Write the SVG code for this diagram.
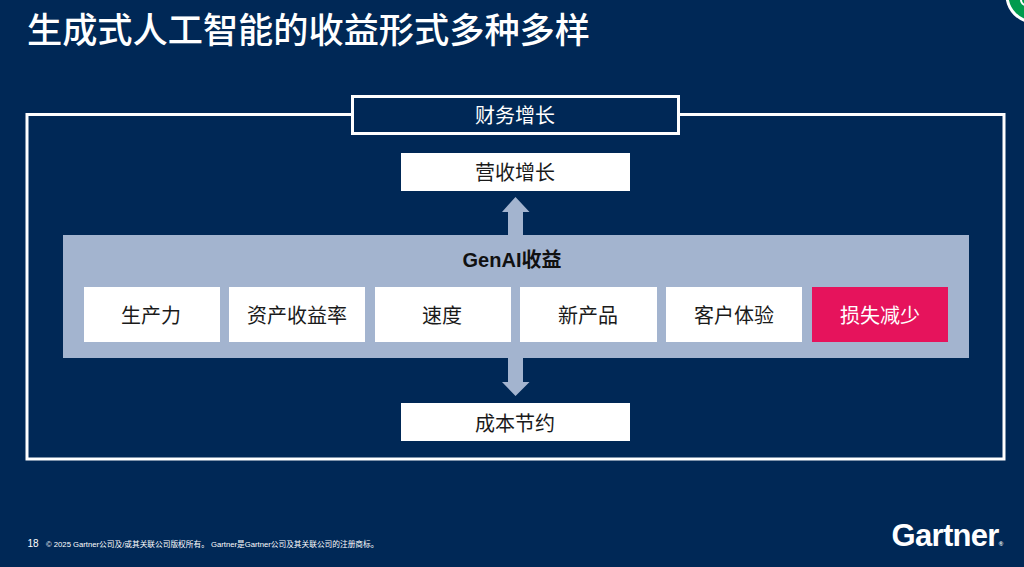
<svg xmlns="http://www.w3.org/2000/svg" width="1024" height="567" viewBox="0 0 1024 567">
<style>
text{font-family:"Liberation Sans","Noto Sans CJK SC",sans-serif;text-anchor:middle}
.w{fill:#fff}
.d{fill:#1a1a1a}
.l{font-size:20px}
.box{fill:#fff}
.arr{fill:#a3b4cf}
</style>
<rect width="1024" height="567" fill="#002856"/>
<circle cx="1034" cy="-5" r="27" fill="#009b4d" stroke="#fff" stroke-width="3"/>
<circle cx="1026" cy="0" r="5" fill="none" stroke="#fff" stroke-width="2"/>
<text x="27" y="43" class="w" font-size="35.200" font-weight="500" style="text-anchor:start;font-family:'Noto Sans CJK SC',sans-serif">生成式人工智能的收益形式多种多样</text>
<rect x="27" y="114.500" width="977" height="344.500" fill="none" stroke="#fff" stroke-width="3"/>
<g id="connectors">
<polygon class="arr" points="515.500,197 529.500,212 523,212 523,240 508,240 508,212 502,212"/>
<polygon class="arr" points="515.500,396 529.500,382 523,382 523,350 508,350 508,382 502,382"/>
</g>
<g id="n-finance"><rect x="352.500" y="96.500" width="326" height="37" fill="#002856" stroke="#fff" stroke-width="3"/><text x="515" y="123" class="w l">财务增长</text></g>
<g id="n-revenue"><rect class="box" x="401" y="153" width="229" height="38"/><text x="515" y="180" class="d l">营收增长</text></g>
<g id="n-genai"><rect x="63" y="235" width="906" height="123" fill="#a3b4cf"/><text x="512" y="267" font-size="20" font-weight="700" fill="#111">GenAI收益</text></g>
<g id="n-prod"><rect class="box" x="84" y="287" width="136" height="55"/><text x="151" y="323" class="d l">生产力</text></g>
<g id="n-roa"><rect class="box" x="229" y="287" width="136" height="55"/><text x="297" y="323" class="d l">资产收益率</text></g>
<g id="n-speed"><rect class="box" x="375" y="287" width="136" height="55"/><text x="442" y="323" class="d l">速度</text></g>
<g id="n-newp"><rect class="box" x="520" y="287" width="137" height="55"/><text x="588" y="323" class="d l">新产品</text></g>
<g id="n-cx"><rect class="box" x="666" y="287" width="136" height="55"/><text x="734" y="323" class="d l">客户体验</text></g>
<g id="n-loss"><rect x="812" y="287" width="136" height="55" fill="#e6135c"/><text x="880" y="323" class="w l">损失减少</text></g>
<g id="n-cost"><rect class="box" x="401" y="403" width="229" height="38"/><text x="515" y="431" class="d l">成本节约</text></g>
<text x="33" y="547" class="w" font-size="10">18</text>
<text x="46" y="547" class="w" font-size="7.700" style="text-anchor:start">© 2025 Gartner公司及/或其关联公司版权所有。 Gartner是Gartner公司及其关联公司的注册商标。</text>
<text x="947" y="546" class="w" font-size="31" font-weight="700" letter-spacing="-0.700">Gartner<tspan font-size="6">®</tspan></text>
</svg>
